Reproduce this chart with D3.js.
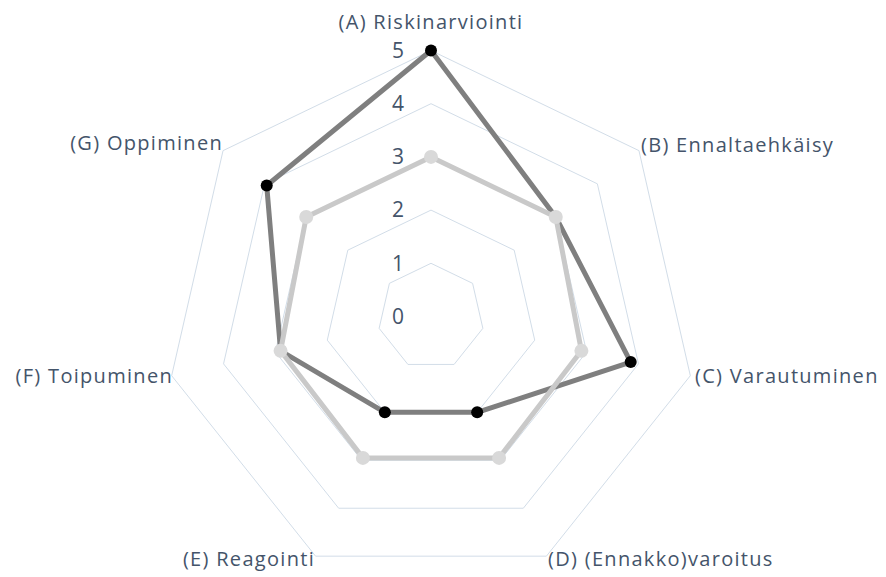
<!DOCTYPE html>
<html>
<head>
<meta charset="utf-8">
<script src="https://cdnjs.cloudflare.com/ajax/libs/d3/7.8.5/d3.min.js"></script>
<style>
  body { margin: 0; background: #fff; }
  text { font-family: "Open Sans", sans-serif; fill: #44546a; }
</style>
</head>
<body>
<div id="chart"></div>
<script>
'use strict';

var categories = [
    "(A) Riskinarviointi",
    "(B) Ennaltaehkäisy",
    "(C) Varautuminen",
    "(D) (Ennakko)varoitus",
    "(E) Reagointi",
    "(F) Toipuminen",
    "(G) Oppiminen"
];
var seriesDark = [5, 3, 3.85, 2, 2, 2.9, 3.95];
var seriesLight = [3, 3, 2.9, 2.95, 2.95, 2.9, 3];
var ticks = [0, 1, 2, 3, 4, 5];

var width = 886, height = 577;
var cx = 431, cy = 316.5, radius = 266;

let svg = d3.select("#chart").append("svg")
    .attr("width", width)
    .attr("height", height);

let g = svg.append("g").attr("transform", "translate(" + cx + "," + cy + ")");

var r = d3.scaleLinear().domain([0, 5]).range([0, radius]);
var angle = d3.scalePoint().domain(d3.range(categories.length))
    .range([0, 2 * Math.PI * (categories.length - 1) / categories.length]);

function pt(i, v) {
    var a = angle(i);
    return [r(v) * Math.sin(a), -r(v) * Math.cos(a)];
}

// grid rings
var ring = d3.line().curve(d3.curveLinearClosed);
g.selectAll(".ring")
    .data(ticks.filter(t => t > 0))
    .enter().append("path")
    .attr("class", "ring")
    .attr("d", t => ring(categories.map((c, i) => pt(i, t))))
    .style("fill", "none")
    .style("stroke", "#d2dde8")
    .style("stroke-width", 1);

// tick labels
g.selectAll(".tick")
    .data(ticks)
    .enter().append("text")
    .attr("x", -33)
    .attr("y", t => -r(t))
    .attr("dy", "0.35em")
    .attr("text-anchor", "middle")
    .style("font-size", "21px")
    .text(t => t);

// category labels
var labelPos = [
    {x: 0, y: -295, anchor: "middle"},
    {x: 210, y: -172, anchor: "start"},
    {x: 264, y: 59, anchor: "start"},
    {x: 117, y: 242, anchor: "start"},
    {x: -116, y: 242, anchor: "end"},
    {x: -258, y: 59, anchor: "end"},
    {x: -208, y: -174, anchor: "end"}
];
g.selectAll(".cat")
    .data(categories)
    .enter().append("text")
    .attr("x", (d, i) => labelPos[i].x)
    .attr("y", (d, i) => labelPos[i].y)
    .attr("dy", "0.35em")
    .attr("text-anchor", (d, i) => labelPos[i].anchor)
    .style("font-size", "20px")
    .style("letter-spacing", "1.3px")
    .text(d => d);

var series = [
    {values: seriesDark, line: "#7f7f7f", dot: "#000", dotR: 6},
    {values: seriesLight, line: "#c9c9c9", dot: "#d9d9d9", dotR: 7}
];

series.forEach(function(s) {
    g.append("path")
        .attr("d", ring(s.values.map((v, i) => pt(i, v))))
        .style("fill", "none")
        .style("stroke", s.line)
        .style("stroke-width", 5)
        .style("stroke-linejoin", "round");
});

series.forEach(function(s) {
    g.selectAll(null)
        .data(s.values)
        .enter().append("circle")
        .attr("cx", (v, i) => pt(i, v)[0])
        .attr("cy", (v, i) => pt(i, v)[1])
        .attr("r", s.dotR)
        .style("fill", s.dot);
});
</script>
</body>
</html>
